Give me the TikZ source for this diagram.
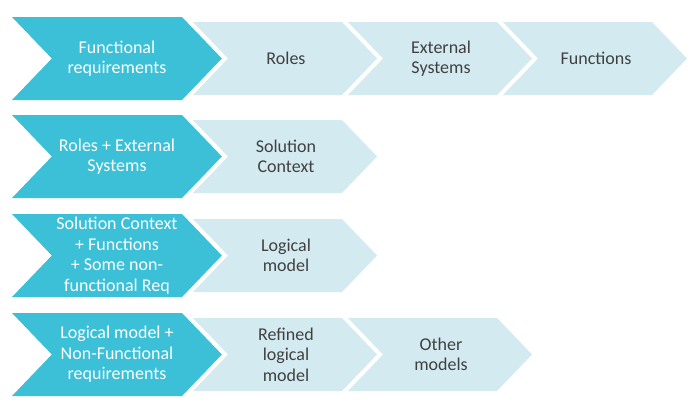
\documentclass[tikz,border=0pt]{standalone}
\usepackage{fontspec}
\setmainfont{Carlito}
\definecolor{darkteal}{RGB}{59,192,215}
\definecolor{lightteal}{RGB}{211,234,240}
\definecolor{txtgray}{RGB}{64,64,64}
% chevron: style, left x, top y, width, height
\newcommand{\chev}[5]{%
  \fill[#1] (#2,#3) -- ++(#4,0) -- ++(0.48*#5,0.5*#5) -- ++(-0.48*#5,0.5*#5)
  -- ++(-#4,0) -- ++(0.48*#5,-0.5*#5) -- cycle;}
\begin{document}
\begin{tikzpicture}[x=1pt,y=-1pt,
    dark/.style={fill=darkteal},
    light/.style={fill=lightteal},
    dtext/.style={text=white,align=center,font=\fontsize{18}{20.5}\selectfont},
    ltext/.style={text=txtgray,align=center,font=\fontsize{18}{20.5}\selectfont}]

    \useasboundingbox (0,0) rectangle (700,407);

    % row 1
    \chev{dark}{12}{17}{170}{83}
    \node[dtext] (funreq) at (117,58.5) {Functional\\requirements};
    \foreach \x/\t [count=\i] in {193/Roles,348/{External\\Systems},503/Functions}{
    \chev{light}{\x}{22}{149}{73}
    \node[ltext] (out1\i) at (\x+93,58.5) {\t};
    }

    % row 2
    \chev{dark}{12}{115}{170}{83}
    \node[dtext] (rolesext) at (117,156.5) {Roles + External\\Systems};
    \chev{light}{193}{120}{149}{73}
    \node[ltext] (solctx) at (286,156.5) {Solution\\Context};

    % row 3
    \chev{dark}{12}{214}{170}{83}
    \node[dtext] (ctxfun) at (117,255.5) {Solution Context\\+ Functions\\+ Some non-\\functional Req};
    \chev{light}{193}{219}{149}{73}
    \node[ltext] (logmod) at (286,255.5) {Logical\\model};

    % row 4
    \chev{dark}{12}{313}{170}{83}
    \node[dtext] (lognf) at (117,354.5) {Logical model +\\Non-Functional\\requirements};
    \foreach \x/\t [count=\i] in {193/{Refined\\logical\\model},348/{Other\\models}}{
    \chev{light}{\x}{318}{149}{73}
    \node[ltext] (out4\i) at (\x+93,354.5) {\t};
    }

\end{tikzpicture}
\end{document}
